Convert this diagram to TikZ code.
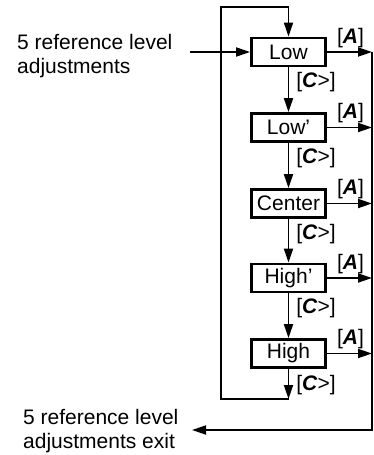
\documentclass[tikz,border=0pt]{standalone}
\usepackage{fontspec}
\setmainfont{Liberation Sans}
\usetikzlibrary{arrows.meta}
\begin{document}
\begin{tikzpicture}[x=1pt,y=-1pt,
  box/.style={draw, line width=2.8pt, minimum width=74pt, minimum height=28pt, inner sep=0pt, font=\fontsize{21}{24}\selectfont},
  conn/.style={line width=1.8pt},
  arr/.style={conn, -{Triangle[length=14pt,width=9pt]}},
  lbl/.style={font=\fontsize{21}{24}\selectfont, inner sep=0pt}]
\useasboundingbox (0,0) rectangle (373,455);
% boxes
\node[box] (low)  at (288.5,52)    {Low};
\node[box] (lowp) at (288.5,127.5) {Low’};
\node[box] (cen)  at (288.5,203.5) {Center};
\node[box] (highp) at (288.5,278)  {High’};
\node[box] (high) at (288.5,353.5) {High};
% coordinates
\coordinate (in) at (190,52);
\coordinate (rt) at (372,52);
\coordinate (rb) at (372,430);
\coordinate (out) at (192,430);
\coordinate (top) at (288.5,7);
\coordinate (lt) at (221,7);
\coordinate (lb) at (221,399);
\coordinate (bot) at (288.5,399);
% vertical chain
\draw[arr] (low) -- (lowp);
\draw[arr] (lowp) -- (cen);
\draw[arr] (cen) -- (highp);
\draw[arr] (highp) -- (high);
\draw[arr] (high) -- (bot);
\draw[arr] (bot) -- (lb) -- (lt) -- (top) -- (low);
% input
\draw[arr] (in) -- (low);
% right bus
\draw[arr] (rt) -- (rb) -- (out);
\foreach \n in {low,lowp,cen,highp,high}{
  \draw[arr] (\n.east) -- (\n.east -| rt);
}
% labels
\foreach \n/\y in {aa/38.5,ab/113.5,ac/189.5,ad/264,ae/339.5}{
  \node[lbl] (\n) at (350.5,\y) {[\textbf{\textit{A}}]};
}
\foreach \n/\y in {ca/82.5,cb/158,cc/234,cd/308.5,ce/385}{
  \node[lbl] (\n) at (316,\y) {[\textbf{\textit{C}}>]};
}
% texts
\node[lbl, align=left, anchor=north west] (intext) at (17,34.5) {5 reference level\\adjustments};
\node[lbl, align=left, anchor=north west] (outtext) at (23,409.5) {5 reference level\\adjustments exit};
\end{tikzpicture}
\end{document}
